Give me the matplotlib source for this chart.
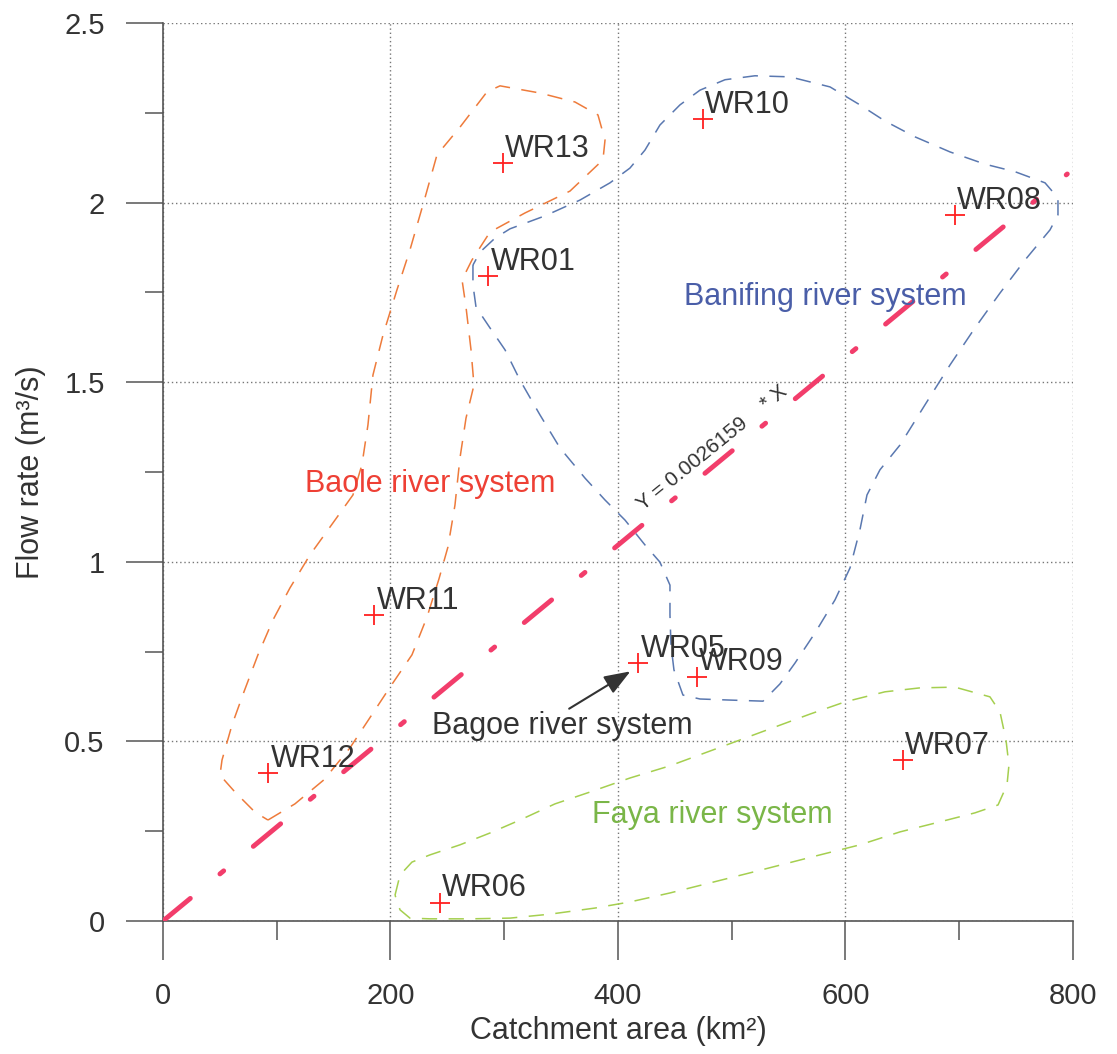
import matplotlib
matplotlib.use('Agg')
import matplotlib.pyplot as plt

plt.rcParams['font.family'] = ['Liberation Sans', 'DejaVu Sans']

# sampling points
names = ['WR01', 'WR05', 'WR06', 'WR07', 'WR08', 'WR09', 'WR10', 'WR11', 'WR12', 'WR13']
area = [286, 418, 243.5, 650.5, 696, 469.7, 474.7, 185.8, 92.6, 299]
flow = [1.796, 0.717, 0.051, 0.448, 1.966, 0.680, 2.233, 0.852, 0.411, 2.110]

# regression through origin
slope = 0.0026159
fit_x = [0, 795]

# hand drawn river system outlines
baole_x = [92.3, 116.0, 141.5, 164.4, 181.1, 199.6, 218.9, 232.1, 242.6, 250.5, 256.7, 261.1,
           266.4, 273.4, 270.8, 266.4, 262.9, 271.6, 287.5, 318.2, 357.8, 386.8, 388.6, 382.4,
           362.2, 331.4, 296.3, 284.8, 261.1, 240.9, 230.3, 217.1, 205.7, 193.4, 184.6, 180.2,
           174.9, 167.0, 151.2, 129.2, 111.6, 96.7, 83.5, 71.2, 60.7, 51.9, 50.1, 63.3, 80.9, 92.3]
baole_y = [0.281, 0.326, 0.393, 0.482, 0.562, 0.651, 0.741, 0.846, 0.952, 1.041, 1.158, 1.289,
           1.400, 1.492, 1.590, 1.709, 1.785, 1.840, 1.918, 1.971, 2.032, 2.119, 2.174, 2.244,
           2.280, 2.305, 2.325, 2.308, 2.210, 2.133, 2.013, 1.868, 1.757, 1.631, 1.520, 1.381,
           1.270, 1.186, 1.116, 1.019, 0.927, 0.838, 0.741, 0.638, 0.546, 0.448, 0.406, 0.359, 0.303, 0.281]

banifing_x = [272.5, 272.5, 275.2, 287.5, 300.7, 313.8, 331.4, 349.0, 371.0, 388.6, 406.2, 423.7,
              436.9, 445.7, 445.7, 446.6, 449.2, 457.1, 472.1, 498.5, 527.5, 542.4, 555.6, 573.2,
              590.8, 604.0, 612.7, 618.9, 630.3, 647.9, 669.9, 691.9, 713.8, 735.8, 757.8, 779.8,
              786.8, 786.8, 775.4, 749.0, 722.6, 691.9, 661.1, 634.7, 612.7, 586.4, 551.2, 520.4,
              494.1, 472.1, 454.5, 436.9, 423.7, 410.5, 393.0, 366.6, 335.8, 305.1, 291.9, 278.7, 272.5]
banifing_y = [1.826, 1.771, 1.709, 1.651, 1.590, 1.506, 1.409, 1.317, 1.233, 1.172, 1.116, 1.047,
              0.999, 0.935, 0.852, 0.768, 0.699, 0.629, 0.618, 0.615, 0.612, 0.660, 0.718, 0.802,
              0.894, 0.983, 1.089, 1.186, 1.256, 1.325, 1.437, 1.548, 1.651, 1.748, 1.840, 1.924,
              1.966, 2.013, 2.055, 2.086, 2.107, 2.141, 2.183, 2.227, 2.272, 2.322, 2.350, 2.353,
              2.342, 2.313, 2.272, 2.216, 2.146, 2.096, 2.055, 2.007, 1.963, 1.927, 1.901, 1.862, 1.826]

faya_x = [204.0, 208.4, 218.9, 234.7, 261.1, 287.5, 313.8, 344.6, 375.4, 410.5, 445.7, 476.5,
          507.3, 538.0, 568.8, 599.6, 634.7, 665.5, 696.3, 727.0, 735.8, 741.1, 743.7, 742.0,
          734.1, 713.8, 683.1, 647.9, 612.7, 577.6, 546.8, 516.0, 480.9, 445.7, 410.5, 379.8,
          340.2, 305.1, 269.9, 234.7, 217.1, 208.4, 204.0]
faya_y = [0.072, 0.128, 0.164, 0.184, 0.212, 0.245, 0.281, 0.326, 0.359, 0.398, 0.432, 0.468,
          0.504, 0.540, 0.576, 0.610, 0.638, 0.649, 0.651, 0.624, 0.582, 0.504, 0.434, 0.379,
          0.323, 0.301, 0.276, 0.248, 0.212, 0.184, 0.159, 0.134, 0.106, 0.078, 0.053, 0.036,
          0.019, 0.008, 0.006, 0.006, 0.008, 0.031, 0.072]

fig = plt.figure(figsize=(11.17, 10.54), dpi=100)
ax = fig.add_axes([0.1459, 0.1262, 0.8147, 0.8520])

ax.plot(baole_x, baole_y, color='#ee7b3b', lw=1.1, dashes=(10, 7.5))
ax.plot(banifing_x, banifing_y, color='#5a78b0', lw=1.1, dashes=(10, 7.5))
ax.plot(faya_x, faya_y, color='#a5cf4f', lw=1.1, dashes=(10, 7.5))

fit_y = [slope * v for v in fit_x]
ax.plot(fit_x, fit_y, color='#f23d6b', lw=3.5, linestyle=(0, (7.3, 7.9, 1.0, 7.9)),
        dash_capstyle='round', zorder=3)

ax.plot(area, flow, '+', color='#ff2020', ms=15, mew=1.3, zorder=4)
for n, xv, yv in zip(names, area, flow):
    ax.annotate(n, (xv, yv), xytext=(1.5, 4.5), textcoords='offset points',
                ha='left', va='baseline', fontsize=22, color='#333333', zorder=5)

ax.text(235, 1.217, 'Baole river system', color='#ee4035', fontsize=22, ha='center', va='center')
ax.text(582, 1.737, 'Banifing river system', color='#4a5ea8', fontsize=22, ha='center', va='center')
ax.text(482.6, 0.295, 'Faya river system', color='#7ab648', fontsize=22, ha='center', va='center')
ax.text(351, 0.543, 'Bagoe river system', color='#333333', fontsize=22, ha='center', va='center')
ax.annotate('', xy=(413, 0.699), xytext=(355, 0.587),
            arrowprops=dict(arrowstyle='-|>,head_length=0.8,head_width=0.3',
                            color='#333333', lw=1.5, mutation_scale=20))
ax.text(482.6, 1.317, 'Y = 0.0026159    * X', color='#333333', fontsize=15,
        rotation=39, rotation_mode='anchor', ha='center', va='center')

ax.set_xlim(0, 800)
ax.set_ylim(0, 2.5)
ax.set_xticks([0, 200, 400, 600, 800])
ax.set_xticks([100, 300, 500, 700], minor=True)
ax.set_yticks([0, 0.5, 1, 1.5, 2, 2.5])
ax.set_yticklabels(['0', '0.5', '1', '1.5', '2', '2.5'])
ax.set_yticks([0.25, 0.75, 1.25, 1.75, 2.25], minor=True)

ax.grid(True, which='major', color='#777777', lw=1.0, linestyle=(0, (1, 2)))
for s in ['top', 'right']:
    ax.spines[s].set_visible(False)
for s in ['left', 'bottom']:
    ax.spines[s].set_color('#555555')
    ax.spines[s].set_linewidth(1.2)

ax.tick_params(axis='x', which='major', direction='out', length=28, width=1.1, color='#555555',
               pad=16, labelsize=21, labelcolor='#333333')
ax.tick_params(axis='x', which='minor', direction='out', length=14, width=1.1, color='#555555')
ax.tick_params(axis='y', which='major', direction='out', length=27, width=1.1, color='#555555',
               pad=15, labelsize=21, labelcolor='#333333')
ax.tick_params(axis='y', which='minor', direction='out', length=13, width=1.1, color='#555555')

ax.set_xlabel('Catchment area (km²)', fontsize=22, color='#333333')
ax.set_ylabel('Flow rate (m³/s)', fontsize=22, color='#333333')
ax.xaxis.set_label_coords(0.5, -0.106)
ax.yaxis.set_label_coords(-0.129, 0.5)

plt.savefig('out.png', dpi=100)
